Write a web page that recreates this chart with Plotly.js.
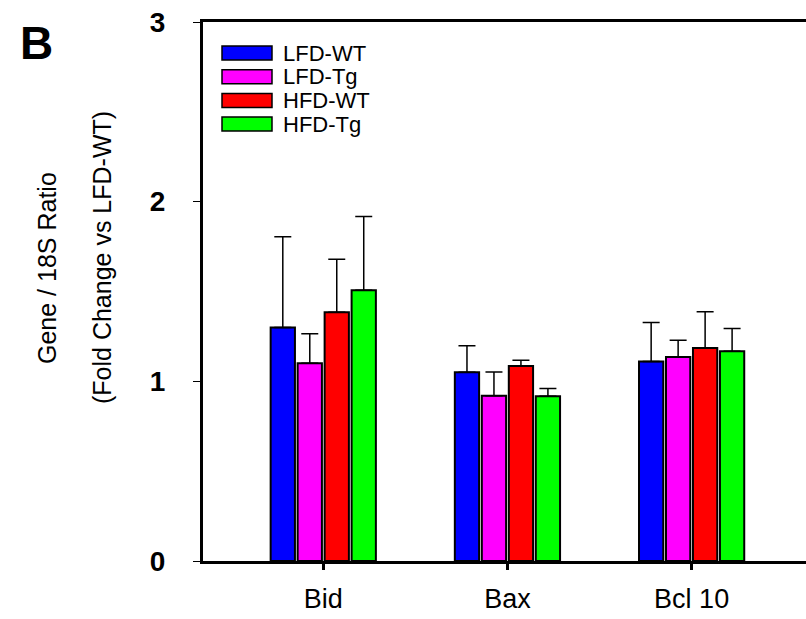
<!DOCTYPE html>
<html>
<head>
<meta charset="utf-8">
<script src="https://cdn.plot.ly/plotly-3.0.1.min.js"></script>
<style>html,body{margin:0;padding:0;background:#fff;}#chart{width:806px;height:619px;}</style>
</head>
<body>
<div id="chart"></div>
<script>
// ---- data ----
const categories = ["Bid", "Bax", "Bcl 10"];
const seriesNames = ["LFD-WT", "LFD-Tg", "HFD-WT", "HFD-Tg"];
const seriesColors = ["#0000ff", "#ff00ff", "#ff0000", "#00ff00"];
const lfdWT = [1.30, 1.05, 1.11];
const lfdTg = [1.10, 0.92, 1.135];
const hfdWT = [1.385, 1.085, 1.185];
const hfdTg = [1.507, 0.917, 1.168];
const lfdWTerr = [0.505, 0.148, 0.217];
const lfdTgErr = [0.165, 0.132, 0.094];
const hfdWTerr = [0.295, 0.033, 0.202];
const hfdTgErr = [0.41, 0.043, 0.126];
const yTicks = [0, 1, 2, 3];
const yTitleLines = ["Gene / 18S Ratio", "(Fold Change vs LFD-WT)"];

const values = [lfdWT, lfdTg, hfdWT, hfdTg];
const errors = [lfdWTerr, lfdTgErr, hfdWTerr, hfdTgErr];

const FONT = "Arial, 'Liberation Sans', sans-serif";

const traces = seriesNames.map((name, i) => ({
  type: "bar",
  name: name,
  x: categories,
  y: values[i],
  marker: { color: seriesColors[i], line: { color: "#000", width: 2 } },
  error_y: {
    type: "data",
    array: errors[i],
    arrayminus: errors[i].map(() => 0),
    symmetric: false,
    color: "#000",
    thickness: 1.5,
    width: 8.5
  },
  showlegend: false
}));

const PW = 603, PH = 539; // plot area size in px
const shapes = [];
const annotations = [];
// legend drawn as paper-anchored swatches + labels (built from series arrays)
seriesNames.forEach((name, i) => {
  const cy = 1 - (31 + i * 23.7) / PH;
  const h = 7 / PH;
  shapes.push({
    type: "rect", xref: "paper", yref: "paper",
    x0: 19 / PW, x1: 69 / PW, y0: cy - h, y1: cy + h,
    fillcolor: seriesColors[i], line: { color: "#000", width: 1.5 }
  });
  annotations.push({
    xref: "paper", yref: "paper", x: 78 / PW, y: cy,
    xanchor: "left", yanchor: "middle", showarrow: false,
    text: name, font: { family: FONT, size: 22, color: "#000" }
  });
});
// panel letter
annotations.push({
  xref: "paper", yref: "paper", x: -185 / PW, y: 1 + 7 / PH,
  xanchor: "left", yanchor: "top", showarrow: false,
  text: "<b>B</b>", font: { family: FONT, size: 46, color: "#000" }
});
// y-axis title (two lines)
const titleX = [-156, -101];
const titleY = [1 - (268 - 22) / PH, 1 - (258 - 22) / PH];
yTitleLines.forEach((t, i) => {
  annotations.push({
    xref: "paper", yref: "paper", x: titleX[i] / PW, y: titleY[i],
    xanchor: "center", yanchor: "middle", showarrow: false, textangle: -90,
    text: t, font: { family: FONT, size: 25, color: "#000" }
  });
});

const layout = {
  width: 806, height: 619,
  margin: { l: 203, r: 0, t: 22, b: 58 },
  paper_bgcolor: "#fff", plot_bgcolor: "#fff",
  barmode: "group", bargap: 0.414, bargroupgap: 0.1,
  font: { family: FONT, color: "#000" },
  xaxis: {
    type: "category",
    range: [-0.653, 2.621],
    showline: true, linecolor: "#000", linewidth: 3, mirror: true,
    ticks: "outside", ticklen: 6, tickwidth: 3, tickcolor: "#000",
    ticklabelstandoff: 6,
    showgrid: false, zeroline: false,
    tickfont: { family: FONT, size: 27, color: "#000" }
  },
  yaxis: {
    range: [0, 3], tickvals: yTicks, ticktext: yTicks.map(v => "<b>" + v + "</b>"),
    showline: true, linecolor: "#000", linewidth: 3,
    ticks: "outside", ticklen: 7, tickwidth: 1, tickcolor: "#000",
    ticklabelstandoff: 22,
    showgrid: false, zeroline: false,
    tickfont: { family: FONT, size: 28, color: "#000" }
  },
  shapes: shapes,
  annotations: annotations
};

Plotly.newPlot("chart", traces, layout, { displayModeBar: false, staticPlot: true });
</script>
</body>
</html>
